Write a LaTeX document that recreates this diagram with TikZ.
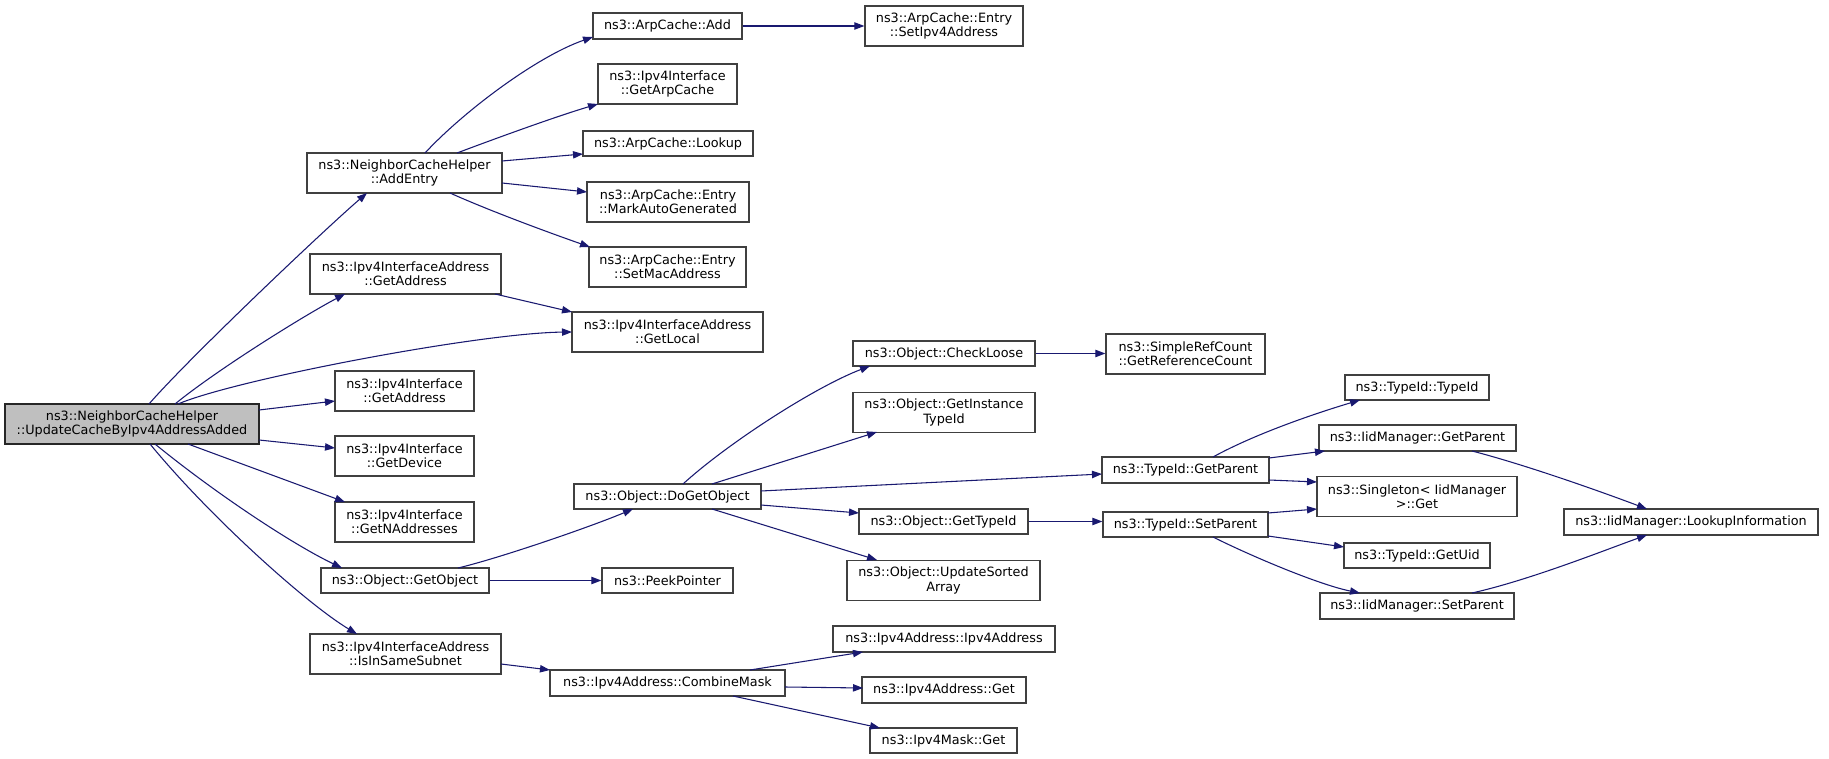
\documentclass[tikz,border=0pt]{standalone}
\usepackage{fontspec}
\newfontfamily\dvs{DejaVu Sans}
\usetikzlibrary{calc,arrows.meta}
\definecolor{edgeblue}{HTML}{191970}
\definecolor{boxgray}{HTML}{404040}
\definecolor{mainfill}{HTML}{BFBFBF}
\tikzset{
  box/.style={draw=boxgray, line width=0.9pt, fill=white, inner sep=0pt, align=center,
    font={\dvs\fontsize{9.6}{10.7}\selectfont}},
  bx/.style 2 args={minimum width=#1*0.75pt, minimum height=#2*0.75pt},
  edge/.style={draw=edgeblue, line width=0.8pt, -{Triangle[length=7.5pt,width=5.5pt]}, fill=none},
}
\begin{document}
\begin{tikzpicture}[x=0.75pt,y=-0.75pt]
\useasboundingbox (0,0) rectangle (1829,759);
\fill[white] (0,0) rectangle (1829,759);
% nodes
\node[box, fill=mainfill, draw=black!85, bx={254}{40}] (main) at (132,424) {ns3::NeighborCacheHelper\\::UpdateCacheByIpv4AddressAdded};
\node[box, bx={195}{40}] (addentry) at (404.5,173) {ns3::NeighborCacheHelper\\::AddEntry};
\node[box, bx={191}{40}] (iagetaddr) at (405.5,274) {ns3::Ipv4InterfaceAddress\\::GetAddress};
\node[box, bx={139}{40}] (iigetaddr) at (404.5,391) {ns3::Ipv4Interface\\::GetAddress};
\node[box, bx={139}{40}] (getdevice) at (404.5,456) {ns3::Ipv4Interface\\::GetDevice};
\node[box, bx={139}{40}] (getnaddr) at (404.5,522) {ns3::Ipv4Interface\\::GetNAddresses};
\node[box, bx={168}{25}] (getobject) at (405,580.5) {ns3::Object::GetObject};
\node[box, bx={191}{40}] (issame) at (405.5,654) {ns3::Ipv4InterfaceAddress\\::IsInSameSubnet};
\node[box, bx={149}{26}] (arpadd) at (667.5,26) {ns3::ArpCache::Add};
\node[box, bx={139}{40}] (getarp) at (667.5,84) {ns3::Ipv4Interface\\::GetArpCache};
\node[box, bx={170}{25}] (lookup) at (668,143.5) {ns3::ArpCache::Lookup};
\node[box, bx={162}{40}] (markauto) at (668,202) {ns3::ArpCache::Entry\\::MarkAutoGenerated};
\node[box, bx={157}{40}] (setmac) at (667.5,267) {ns3::ArpCache::Entry\\::SetMacAddress};
\node[box, bx={191}{40}] (getlocal) at (667.5,332) {ns3::Ipv4InterfaceAddress\\::GetLocal};
\node[box, bx={187}{25}] (dogetobj) at (667.5,496.5) {ns3::Object::DoGetObject};
\node[box, bx={131}{25}] (peek) at (667.5,580.5) {ns3::PeekPointer};
\node[box, bx={235}{26}] (combine) at (667.5,683) {ns3::Ipv4Address::CombineMask};
\node[box, bx={158}{40}] (setipv4) at (944,26) {ns3::ArpCache::Entry\\::SetIpv4Address};
\node[box, bx={182}{25}] (checkloose) at (944,353.5) {ns3::Object::CheckLoose};
\node[box, bx={159}{40}] (getrefcount) at (1185.5,354) {ns3::SimpleRefCount\\::GetReferenceCount};
\node[box, bx={182}{40}] (getinst) at (944,412.5) {ns3::Object::GetInstance\\TypeId};
\node[box, bx={169}{25}] (gettypeid) at (943.5,521.5) {ns3::Object::GetTypeId};
\node[box, bx={193}{40}] (updatesorted) at (943.5,580.5) {ns3::Object::UpdateSorted\\Array};
\node[box, bx={222}{26}] (ipv4ctor) at (944,639) {ns3::Ipv4Address::Ipv4Address};
\node[box, bx={164}{26}] (ipv4get) at (944,690) {ns3::Ipv4Address::Get};
\node[box, bx={147}{25}] (maskget) at (943.5,740.5) {ns3::Ipv4Mask::Get};
\node[box, bx={167}{26}] (tgetparent) at (1185.5,470) {ns3::TypeId::GetParent};
\node[box, bx={165}{25}] (tsetparent) at (1185.5,524.5) {ns3::TypeId::SetParent};
\node[box, bx={144}{25}] (typeidctor) at (1417,387.5) {ns3::TypeId::TypeId};
\node[box, bx={197}{26}] (iidgetparent) at (1417.5,438) {ns3::IidManager::GetParent};
\node[box, bx={200}{40}] (singleton) at (1417,496.5) {ns3::Singleton< IidManager\\ >::Get};
\node[box, bx={146}{25}] (getuid) at (1417,555.5) {ns3::TypeId::GetUid};
\node[box, bx={194}{26}] (iidsetparent) at (1417,606) {ns3::IidManager::SetParent};
\node[box, bx={254}{26}] (lookupinfo) at (1691,522) {ns3::IidManager::LookupInformation};
% edges from main
\draw[edge] ($(main)+(17,-20)$) .. controls ($(main)+(57,-66)$) and ($(addentry)+(-79.5,56)$) .. ($(addentry)+(-37.5,20)$);
\draw[edge] ($(main)+(43,-20)$) .. controls ($(main)+(86,-55)$) and ($(iagetaddr)+(-100.5,41)$) .. ($(iagetaddr)+(-60.5,20)$);
\draw[edge] ($(main)+(46,-20)$) .. controls ($(main)+(105,-45)$) and ($(getlocal)+(-187.5,1)$) .. ($(getlocal)+(-95.5,0)$);
\draw[edge] ($(main)+(127,-14)$) -- ($(iigetaddr)+(-69.5,10)$);
\draw[edge] ($(main)+(127,16)$) -- ($(getdevice)+(-69.5,-8)$);
\draw[edge] ($(main)+(56,20)$) -- ($(getnaddr)+(-59.5,-20)$);
\draw[edge] ($(main)+(23,20)$) .. controls ($(main)+(83,69)$) and ($(getobject)+(-113,-36.5)$) .. ($(getobject)+(-63,-12.5)$);
\draw[edge] ($(main)+(18,20)$) .. controls ($(main)+(78,93)$) and ($(issame)+(-98.5,-50)$) .. ($(issame)+(-48.5,-20)$);
% edges from AddEntry
\draw[edge] ($(addentry)+(20.5,-20)$) .. controls ($(addentry)+(60.5,-63)$) and ($(arpadd)+(-129.5,30)$) .. ($(arpadd)+(-74.5,11)$);
\draw[edge] ($(addentry)+(52.5,-20)$) .. controls ($(addentry)+(95,-36)$) and ($(getarp)+(-110,32)$) .. ($(getarp)+(-69.5,20)$);
\draw[edge] ($(addentry)+(97.5,-12)$) -- ($(lookup)+(-85,10.5)$);
\draw[edge] ($(addentry)+(97.5,10)$) -- ($(markauto)+(-81,-10)$);
\draw[edge] ($(addentry)+(45.5,20)$) .. controls ($(addentry)+(85.5,38)$) and ($(setmac)+(-117.5,-34)$) .. ($(setmac)+(-77.5,-20)$);
% other edges, column 2
\draw[edge] ($(iagetaddr)+(89.5,20)$) -- ($(getlocal)+(-95.5,-20)$);
\draw[edge] (arpadd.east) -- (setipv4.west |- arpadd.east);
\draw[edge] ($(getobject)+(53,-12.5)$) .. controls ($(getobject)+(95,-22.5)$) and ($(dogetobj)+(-77.5,30.5)$) .. ($(dogetobj)+(-34.5,12.5)$);
\draw[edge] (getobject.east) -- (peek.west);
\draw[edge] ($(issame)+(95.5,10)$) -- ($(combine)+(-117.5,-13)$);
% edges from DoGetObject
\draw[edge] ($(dogetobj)+(15.5,-12.5)$) .. controls ($(dogetobj)+(60.5,-53.5)$) and ($(checkloose)+(-129,33.5)$) .. ($(checkloose)+(-74,12.5)$);
\draw[edge] ($(dogetobj)+(44.5,-12.5)$) -- ($(getinst)+(-67,19.5)$);
\draw[edge] ($(dogetobj)+(93.5,-5.5)$) -- ($(tgetparent)+(-83.5,4)$);
\draw[edge] ($(dogetobj)+(93.5,8.5)$) -- ($(gettypeid)+(-84.5,-8.5)$);
\draw[edge] ($(dogetobj)+(44.5,12.5)$) -- ($(updatesorted)+(-66.5,-20.5)$);
\draw[edge] (checkloose.east) -- (getrefcount.west |- checkloose.east);
% edges from TypeId::GetParent
\draw[edge] ($(tgetparent)+(27.5,-13)$) .. controls ($(tgetparent)+(67.5,-35)$) and ($(typeidctor)+(-107,27.5)$) .. ($(typeidctor)+(-57,12.5)$);
\draw[edge] ($(tgetparent)+(83.5,-12)$) -- ($(iidgetparent)+(-92.5,13)$);
\draw[edge] ($(tgetparent)+(83.5,10)$) -- ($(singleton)+(-100,-14.5)$);
\draw[edge] (gettypeid.east) -- (tsetparent.west |- gettypeid.east);
% edges from TypeId::SetParent
\draw[edge] ($(tsetparent)+(82.5,-11.5)$) -- ($(singleton)+(-100,12.5)$);
\draw[edge] ($(tsetparent)+(82.5,11.5)$) -- ($(getuid)+(-73,-8.5)$);
\draw[edge] ($(tsetparent)+(27.5,12.5)$) .. controls ($(tsetparent)+(67.5,32.5)$) and ($(iidsetparent)+(-97,-21)$) .. ($(iidsetparent)+(-57,-13)$);
% to LookupInformation
\draw[edge] ($(iidgetparent)+(54.5,13)$) .. controls ($(iidgetparent)+(112.5,28)$) and ($(lookupinfo)+(-81,-27)$) .. ($(lookupinfo)+(-44,-13)$);
\draw[edge] ($(iidsetparent)+(55,-13)$) .. controls ($(iidsetparent)+(113,-26)$) and ($(lookupinfo)+(-86,28)$) .. ($(lookupinfo)+(-44,13)$);
% edges from CombineMask
\draw[edge] ($(combine)+(82.5,-13)$) -- ($(ipv4ctor)+(-81,13)$);
\draw[edge] ($(combine)+(117.5,4)$) -- ($(ipv4get)+(-81,-2)$);
\draw[edge] ($(combine)+(65.5,13)$) -- ($(maskget)+(-63.5,-12.5)$);
\end{tikzpicture}
\end{document}
